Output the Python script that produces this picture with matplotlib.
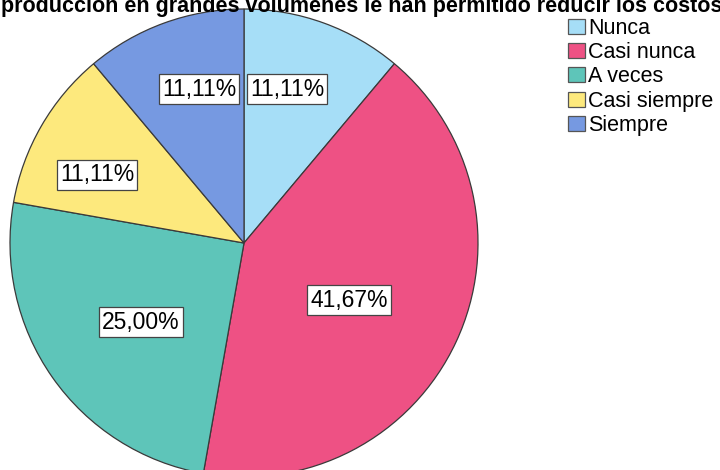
import matplotlib.pyplot as plt
from matplotlib.patches import Patch

categories = ['Nunca', 'Casi nunca', 'A veces', 'Casi siempre', 'Siempre']
percentages = [11.11, 41.67, 25.00, 11.11, 11.11]
colors = ['#a6def7', '#ee5184', '#5ec5b9', '#fde97d', '#7699e1']
# label box centres, in pie radius units
label_pos = [(0.184, 0.658), (0.449, -0.244), (-0.440, -0.338),
             (-0.628, 0.291), (-0.192, 0.658)]
title = 'producción en grandes volúmenes le han permitido reducir los costos?'

plt.rcParams['font.family'] = ['Liberation Sans', 'DejaVu Sans']

W, H = 720, 470
fig = plt.figure(figsize=(W / 100, H / 100), dpi=100)

# pie centre and radius in pixels
cx, cy, r = 244, 243, 234
ax = fig.add_axes([(cx - r) / W, (H - cy - r) / H, 2 * r / W, 2 * r / H])
ax.pie(percentages, colors=colors, startangle=90, counterclock=False,
       radius=1.0,
       wedgeprops=dict(edgecolor='#3a3a3a', linewidth=0.9))
ax.set_xlim(-1, 1)
ax.set_ylim(-1, 1)
ax.set_aspect('equal')
ax.axis('off')

for pct, (x, y) in zip(percentages, label_pos):
    ax.text(x, y, f'{pct:.2f}%'.replace('.', ','), ha='center', va='center',
            fontsize=16.5, color='black',
            bbox=dict(boxstyle='square,pad=0.14', fc='white', ec='#444444', lw=0.9))

fig.text(1 / W, 1 - 12 / H, title, ha='left', va='baseline',
         fontsize=15.5, fontweight='bold')

handles = [Patch(facecolor=c, edgecolor='#555555', linewidth=0.9) for c in colors]
fig.legend(handles, categories, loc='upper left',
           bbox_to_anchor=(568 / W, 1 - 18 / H), frameon=False,
           fontsize=15.5, handlelength=0.8, handleheight=0.7,
           handletextpad=0.15, labelspacing=0.15, borderpad=0, borderaxespad=0)

fig.savefig('out.png', dpi=100)
